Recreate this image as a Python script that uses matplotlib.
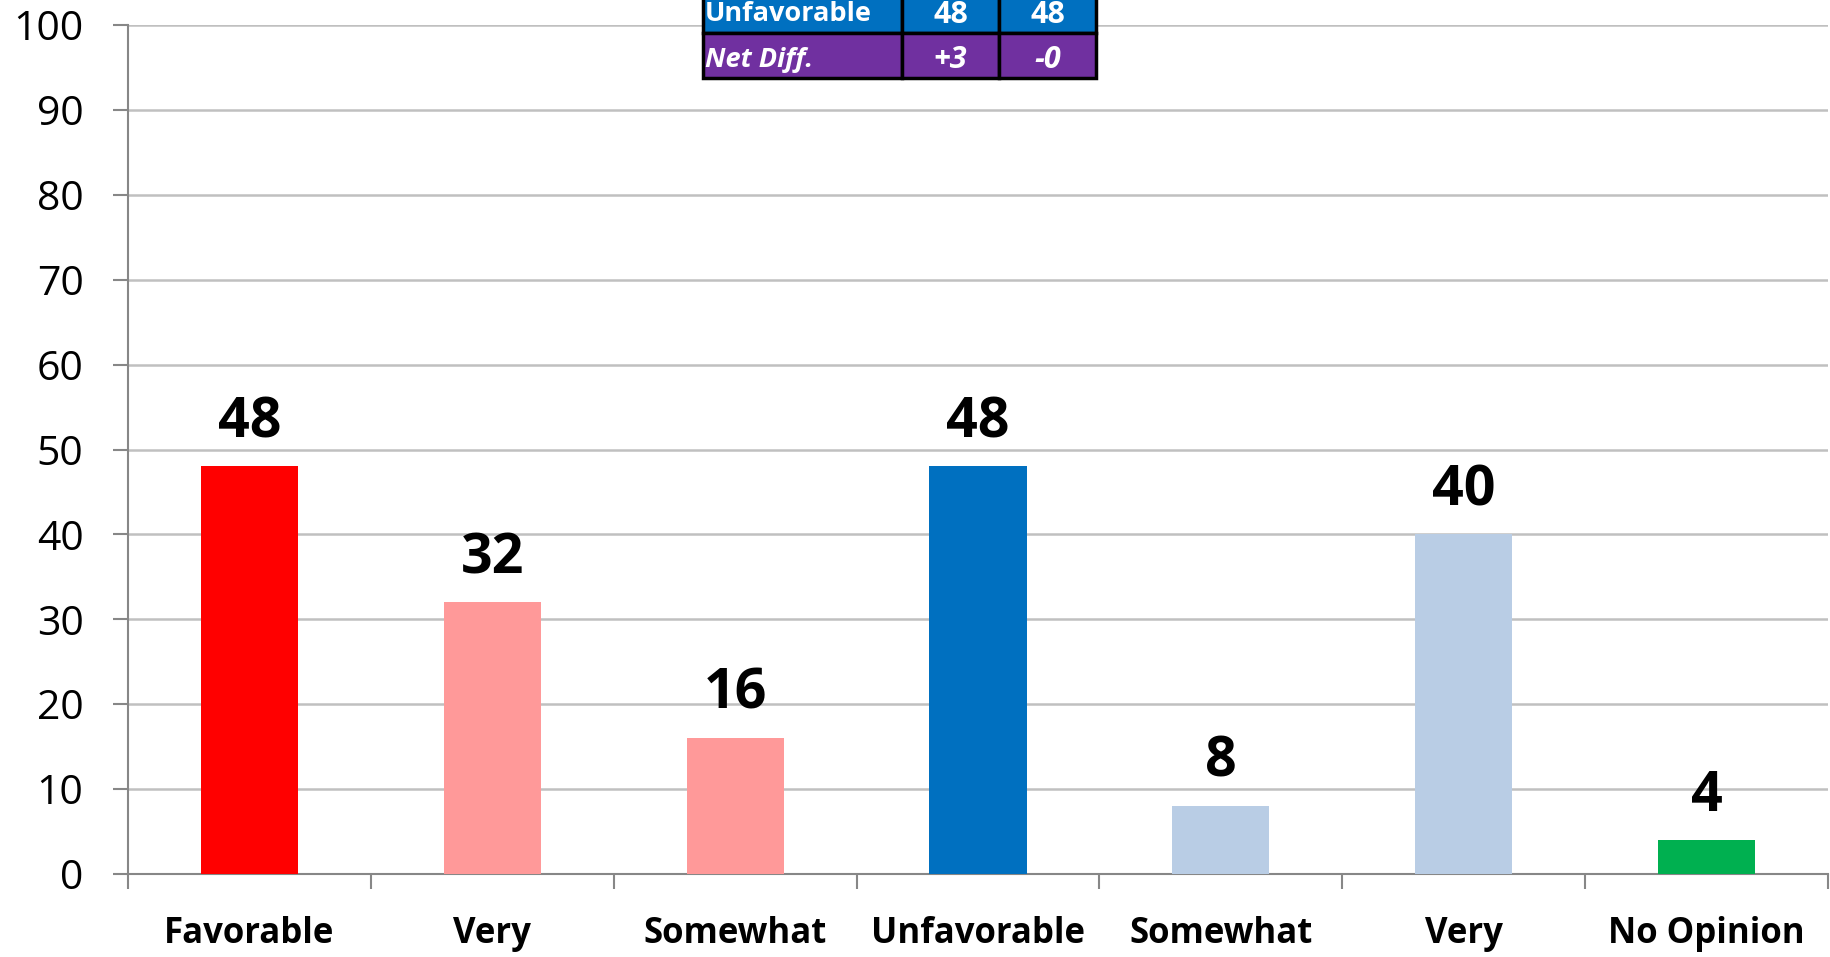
import matplotlib
matplotlib.use("Agg")
import matplotlib.pyplot as plt
from matplotlib.patches import Rectangle

categories = ["Favorable", "Very", "Somewhat", "Unfavorable", "Somewhat", "Very", "No Opinion"]
values = [48, 32, 16, 48, 8, 40, 4]
colors = ["#FF0000", "#FF9999", "#FF9999", "#0070C0", "#B9CDE5", "#B9CDE5", "#00B050"]
yticks = [0, 10, 20, 30, 40, 50, 60, 70, 80, 90, 100]

table_rows = [["Unfavorable", "48", "48"], ["Net Diff.", "+3", "-0"]]
table_colors = ["#0070C0", "#7030A0"]

plt.rcParams['font.family'] = ['Open Sans', 'DejaVu Sans']

W, H = 1830, 957
fig = plt.figure(figsize=(W / 100, H / 100), dpi=100)
ax = fig.add_axes([128 / W, 1 - 874 / H, (1828 - 128) / W, (874 - 25) / H])

x = list(range(len(categories)))
ax.bar(x, values, width=0.40, color=colors, zorder=3)
for xi, v in zip(x, values):
    ax.annotate(str(v), (xi, v), xytext=(0, 21), textcoords="offset points",
                ha="center", va="baseline", fontsize=40, fontweight="bold", color="black")

ax.set_xlim(-0.5, len(categories) - 0.5)
ax.set_ylim(0, 100)
ax.set_yticks(yticks)
ax.set_yticklabels([str(t) for t in yticks], fontsize=29.5)
ax.yaxis.grid(True, color="#C0C0C0", linewidth=1.8, zorder=0)
ax.set_axisbelow(True)

ax.set_xticks([i + 0.5 for i in range(-1, len(categories))])
ax.set_xticklabels([])
ax.set_xticks(x, minor=True)
ax.set_xticklabels(categories, minor=True, fontsize=25, fontweight="bold")
ax.tick_params(axis="x", which="minor", length=0, pad=30)
ax.tick_params(axis="x", which="major", length=11, width=1.5, color="#878787", direction="out")
ax.tick_params(axis="y", length=11, width=1.5, color="#878787", direction="out", pad=21)

for s in ["top", "right"]:
    ax.spines[s].set_visible(False)
for s in ["left", "bottom"]:
    ax.spines[s].set_color("#878787")
    ax.spines[s].set_linewidth(1.5)

# table at top (partly cut off)
col_edges = [703, 902, 999, 1096]
row_edges = [-12, 33, 78]
label_baselines = [21, 67]
num_baselines = [23, 68]
for r, row in enumerate(table_rows):
    y0, y1 = row_edges[r], row_edges[r + 1]
    for c, txt in enumerate(row):
        x0, x1 = col_edges[c], col_edges[c + 1]
        fig.add_artist(Rectangle((x0 / W, 1 - y1 / H), (x1 - x0) / W, (y1 - y0) / H,
                                 transform=fig.transFigure, facecolor=table_colors[r],
                                 edgecolor="black", linewidth=2.5, zorder=5))
        style = "italic" if r == 1 else "normal"
        if c == 0:
            fig.text((x0 + 2) / W, 1 - label_baselines[r] / H, txt, ha="left", va="baseline",
                     fontsize=19.5, fontweight="bold", style=style, color="white", zorder=6)
        else:
            fig.text((x0 + x1) / 2 / W, 1 - num_baselines[r] / H, txt, ha="center", va="baseline",
                     fontsize=22, fontweight="bold", style=style, color="white", zorder=6)

fig.savefig("out.png", dpi=100, facecolor="white")
